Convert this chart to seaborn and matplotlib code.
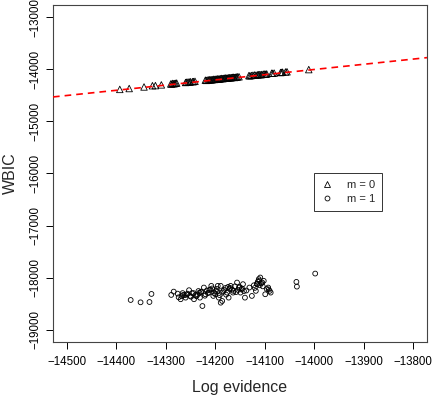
import matplotlib
matplotlib.use("Agg")
import matplotlib.pyplot as plt
import seaborn as sns
import pandas as pd
from matplotlib.lines import Line2D

# ---- data ----
m0_logev = [-14393, -14374, -14344, -14327, -14321, -14309, -14290, -14286, -14282,
            -14278, -14260, -14255, -14250, -14246, -14241, -14220, -14215, -14211,
            -14207, -14203, -14199, -14195, -14191, -14187, -14183, -14179, -14175,
            -14171, -14167, -14163, -14159, -14155, -14152, -14132, -14127, -14121,
            -14115, -14111, -14106, -14100, -14096, -14086, -14081, -14068, -14064,
            -14055, -14011, -14288, -14284, -14280, -14258, -14252, -14244, -14218,
            -14213, -14209, -14205, -14201, -14197, -14193, -14189, -14185, -14181,
            -14177, -14173, -14169, -14165, -14161, -14157, -14130, -14124, -14118,
            -14113, -14108, -14103, -14098, -14084, -14066, -14058]
m0_wbic = [-14383, -14366, -14336, -14312, -14310, -14296, -14278, -14268, -14270,
           -14262, -14250, -14240, -14236, -14234, -14228, -14206, -14203, -14196,
           -14196, -14188, -14188, -14180, -14182, -14172, -14172, -14164, -14166,
           -14158, -14156, -14150, -14150, -14142, -14140, -14118, -14116, -14106,
           -14104, -14098, -14096, -14088, -14086, -14072, -14070, -14058, -14052,
           -14044, -14002, -14280, -14274, -14266, -14246, -14242, -14232, -14210,
           -14200, -14200, -14194, -14192, -14186, -14184, -14176, -14176, -14168,
           -14168, -14160, -14160, -14152, -14154, -14146, -14122, -14112, -14110,
           -14100, -14100, -14090, -14092, -14074, -14056, -14048]

m1_logev = [-14371, -14351, -14333, -14329, -14289, -14284, -14270, -14265, -14260,
            -14253, -14251, -14243, -14240, -14231, -14226, -14223, -14220, -14213,
            -14208, -14204, -14199, -14195, -14193, -14189, -14186, -14189, -14186,
            -14176, -14173, -14169, -14163, -14156, -14152, -14149, -14144, -14140,
            -14131, -14126, -14118, -14112, -14109, -14105, -14102, -14099, -14093,
            -14090, -14088, -14036, -14035, -13998, -14268, -14262, -14256, -14247,
            -14236, -14229, -14217, -14210, -14202, -14197, -14182, -14179, -14166,
            -14160, -14158, -14146, -14137, -14122, -14115, -14107, -14096, -14274,
            -14249, -14234, -14215, -14206, -14191, -14170, -14154, -14114, -14110,
            -14276, -14258, -14244, -14238, -14228, -14221, -14212, -14200, -14184,
            -14178, -14171, -14164, -14151, -14142, -14120, -14116, -14104, -14092,
            -14266, -14232, -14196, -14174, -14147, -14111]
m1_wbic = [-18432, -18477, -18471, -18316, -18335, -18271, -18418, -18335, -18387,
           -18244, -18354, -18418, -18335, -18387, -18548, -18193, -18322, -18290,
           -18161, -18354, -18257, -18161, -18387, -18484, -18290, -18161, -18451,
           -18290, -18387, -18161, -18257, -18097, -18193, -18290, -18128, -18387,
           -18193, -18354, -18257, -18031, -18000, -18097, -18064, -18322, -18193,
           -18257, -18290, -18084, -18175, -17924, -18360, -18340, -18310, -18300,
           -18330, -18280, -18250, -18230, -18300, -18220, -18240, -18200, -18230,
           -18170, -18280, -18210, -18250, -18150, -18130, -18110, -18220, -18380,
           -18370, -18260, -18300, -18210, -18340, -18200, -18240, -18080, -18150,
           -18310, -18330, -18300, -18360, -18270, -18350, -18240, -18320, -18260,
           -18330, -18220, -18290, -18180, -18260, -18200, -18120, -18170, -18230,
           -18300, -18290, -18270, -18180, -18230, -18060]

legend_labels = ["m = 0", "m = 1"]
x_ticks = [-14500, -14400, -14300, -14200, -14100, -14000, -13900, -13800]
y_ticks = [-19000, -18000, -17000, -16000, -15000, -14000, -13000]

df0 = pd.DataFrame({"logev": m0_logev, "wbic": m0_wbic})
df1 = pd.DataFrame({"logev": m1_logev, "wbic": m1_wbic})

sns.set_style("white")
plt.rcParams["font.family"] = ["Liberation Sans", "DejaVu Sans"]

fig = plt.figure(figsize=(4.32, 3.95), dpi=100)
ax = fig.add_axes([53 / 432, 1 - 342 / 395, (427 - 53) / 432, (342 - 5) / 395])

sns.scatterplot(data=df0, x="logev", y="wbic", ax=ax, marker="^", s=22,
                facecolor="none", edgecolor="black", linewidth=0.6, zorder=2)
sns.scatterplot(data=df1, x="logev", y="wbic", ax=ax, marker="o", s=12,
                facecolor="none", edgecolor="black", linewidth=0.6, zorder=2)

ax.set_xlim(-14528, -13772)
ax.set_ylim(-19240, -12760)
ax.axline((-14500, -14500), slope=1, color="red", linestyle=(0, (4, 3)),
          linewidth=1.2, zorder=3)

ax.set_xticks(x_ticks)
ax.set_yticks(y_ticks)
ax.tick_params(axis="both", direction="out", length=5, width=0.7,
               labelsize=8.3, color="black", labelcolor="black",
               bottom=True, left=True)
ax.tick_params(axis="x", pad=5)
for lab in ax.get_yticklabels():
    lab.set_rotation(90)
    lab.set_va("center")
for sp in ax.spines.values():
    sp.set_color("#444444")
    sp.set_linewidth(0.8)

ax.set_xlabel("Log evidence", fontsize=11.5, labelpad=9)
ax.set_ylabel("WBIC", fontsize=11.5, labelpad=8)

handles = [
    Line2D([], [], marker="^", linestyle="none", markerfacecolor="none",
           markeredgecolor="black", markersize=5, markeredgewidth=0.6),
    Line2D([], [], marker="o", linestyle="none", markerfacecolor="none",
           markeredgecolor="black", markersize=3.5, markeredgewidth=0.6),
]
leg = ax.legend(handles, legend_labels, loc="upper left",
                bbox_to_anchor=((314 - 53) / 374, (342 - 173) / 337),
                frameon=True, fancybox=False, fontsize=8, handlelength=1.2,
                handletextpad=1.2, borderpad=0.6, labelspacing=0.4,
                borderaxespad=0)
leg.get_frame().set_edgecolor("black")
leg.get_frame().set_linewidth(0.7)

fig.savefig("out.png", dpi=100)
